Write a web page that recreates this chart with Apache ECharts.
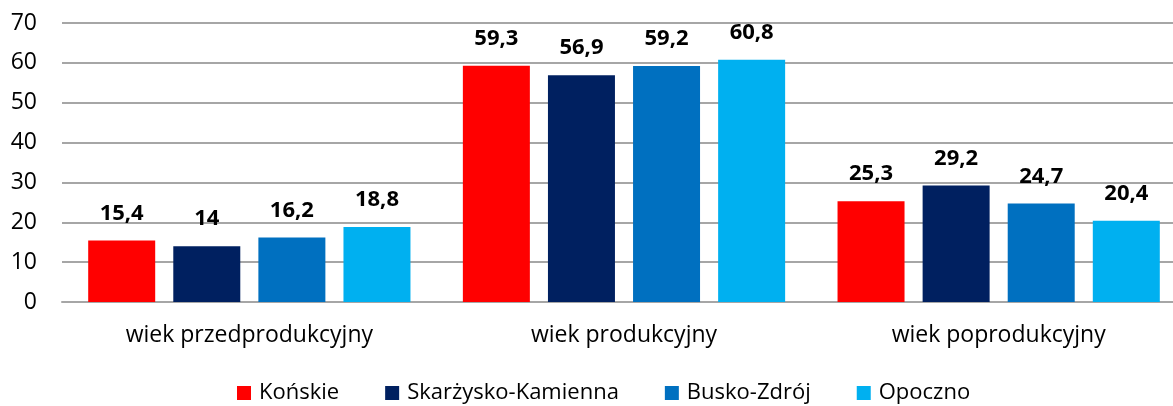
<!DOCTYPE html>
<html>
<head>
<meta charset="utf-8">
<script src="https://cdn.jsdelivr.net/npm/echarts@6/dist/echarts.min.js"></script>
<style>
  html, body { margin: 0; padding: 0; background: #fff; }
  #chart { width: 1173px; height: 406px; }
</style>
</head>
<body>
<div id="chart"></div>
<script>
// Age groups (x categories)
const categories = ['wiek przedprodukcyjny', 'wiek produkcyjny', 'wiek poprodukcyjny'];
// Share of population per county, %
const konskie = [15.4, 59.3, 25.3];
const skarzysko = [14, 56.9, 29.2];
const busko = [16.2, 59.2, 24.7];
const opoczno = [18.8, 60.8, 20.4];
const seriesNames = ['Końskie', 'Skarżysko-Kamienna', 'Busko-Zdrój', 'Opoczno'];
const yTicks = { min: 0, max: 70, interval: 10 };

const colors = ['#FF0000', '#002060', '#0070C0', '#00B0F0'];
const font = 'Open Sans, Noto Sans, sans-serif';

const chart = echarts.init(document.getElementById('chart'));
const seriesData = [konskie, skarzysko, busko, opoczno];

chart.setOption({
  animation: false,
  textStyle: { fontFamily: font },
  grid: {
    left: 62, top: 23, width: 1124, height: 279,
    containLabel: false,
    outerBoundsMode: 'none'
  },
  legend: {
    top: 382,
    left: 237,
    padding: 0,
    itemWidth: 14,
    itemHeight: 14,
    itemGap: 46,
    icon: 'rect',
    textStyle: { fontSize: 22, color: '#000', fontFamily: font, padding: [0, 0, 0, 3] },
    data: seriesNames
  },
  xAxis: {
    type: 'category',
    data: categories,
    axisLine: { lineStyle: { color: '#A6A6A6', width: 2 } },
    axisTick: { show: false },
    axisLabel: { color: '#000', fontSize: 23, margin: 22, fontFamily: font }
  },
  yAxis: {
    type: 'value',
    min: yTicks.min,
    max: yTicks.max,
    interval: yTicks.interval,
    axisLine: { show: false },
    axisTick: { show: false },
    splitLine: { lineStyle: { color: '#A6A6A6', width: 2 } },
    axisLabel: { color: '#000', fontSize: 23, margin: 8, padding: [0, 17, 0, 0], fontFamily: font }
  },
  series: seriesNames.map((name, i) => ({
    name: name,
    type: 'bar',
    data: seriesData[i],
    barWidth: 67,
    barGap: '27%',
    itemStyle: { color: colors[i] },
    label: {
      show: true,
      position: 'top',
      distance: 16,
      color: '#000',
      fontWeight: 'bold',
      fontSize: 22,
      fontFamily: font,
      formatter: p => String(p.value).replace('.', ',')
    }
  }))
});
</script>
</body>
</html>
